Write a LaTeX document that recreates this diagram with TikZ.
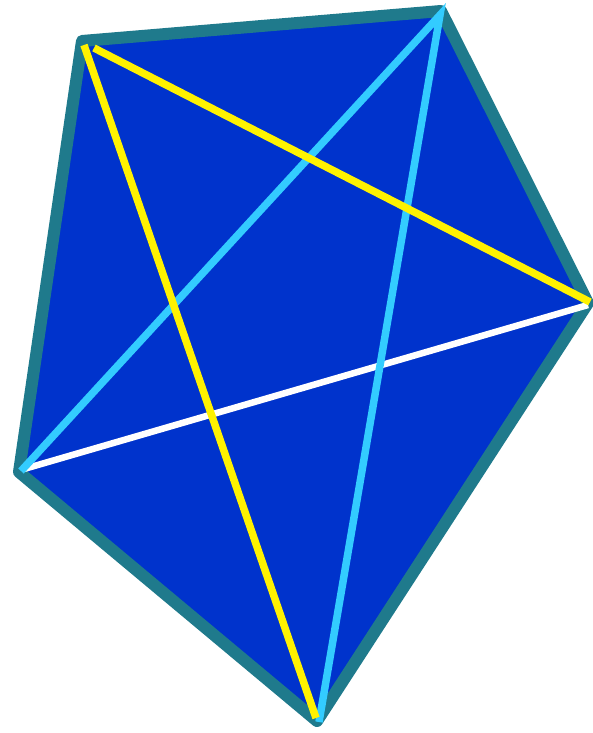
\documentclass[tikz,border=0pt]{standalone}
\usepackage{xcolor}
\definecolor{rimteal}{HTML}{1F7A8C}
\definecolor{faceblue}{HTML}{0033CC}
\definecolor{diagcyan}{HTML}{33CCFF}
\begin{document}
\begin{tikzpicture}[x=1pt,y=-1pt,diag/.style={line width=7.5pt}]
        \useasboundingbox (0,0) rectangle (593,733);
        \foreach \n/\p in {a/{82,41},b/{441,11},c/{588,303},d/{317,721},e/{19,472}}
          \coordinate (\n) at (\p);
        % ends of the diagonals
        \foreach \n/\p in {ya/{84,45},yc/{94,48},yac/{590,302},yd/{316,718},cb/{440,15},cd/{319,722},ce/{21,471},wc/{588,305},we/{24,469}}
          \coordinate (\n) at (\p);
        \filldraw[fill=faceblue,draw=rimteal,line width=12pt,line join=round] (a) -- (b) -- (c) -- (d) -- (e) -- cycle;
        \draw[diag,white,line width=6.5pt] (we) -- (wc);
        \draw[diag,diagcyan] (ce) -- (cb) -- (cd);
        \draw[diag,yellow] (yc) -- (yac);
        \draw[diag,yellow] (ya) -- (yd);
      \end{tikzpicture}
\end{document}
